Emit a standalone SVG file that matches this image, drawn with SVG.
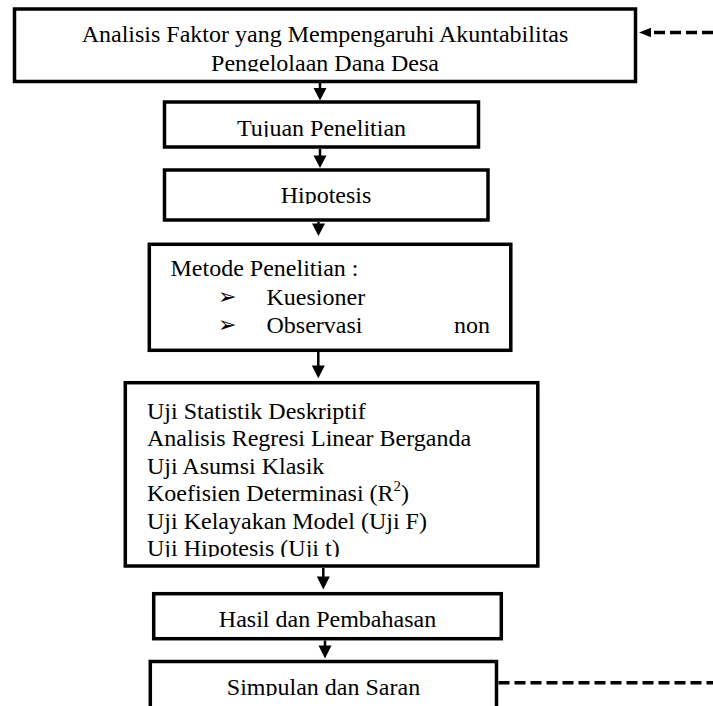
<svg xmlns="http://www.w3.org/2000/svg" width="713" height="706" viewBox="0 0 713 706">
<style>
.box{fill:#fff;stroke:#000;stroke-width:3.5}
.t{font-family:"Liberation Serif","Times New Roman",serif;font-size:24px;fill:#000}
.c{text-anchor:middle}
.b{font-family:"DejaVu Sans",sans-serif;font-size:22px;fill:#000}
.ln{stroke:#000;stroke-width:2.5;fill:none}
.dash{stroke:#000;stroke-width:3.5;fill:none;stroke-dasharray:11 5}
.head{fill:#000}
</style>
<defs>
<clipPath id="c1"><rect x="0" y="0" width="713" height="71.5"/></clipPath>
<clipPath id="c2"><rect x="0" y="0" width="713" height="137"/></clipPath>
<clipPath id="c3"><rect x="0" y="0" width="713" height="204"/></clipPath>
<clipPath id="c5"><rect x="0" y="0" width="713" height="557"/></clipPath>
<clipPath id="c7"><rect x="0" y="0" width="713" height="696"/></clipPath>
</defs>
<rect width="713" height="706" fill="#fff"/>
<g id="n1">
<rect class="box" x="14.5" y="9" width="621" height="72.5"/>
<text class="t c" x="325" y="42">Analisis Faktor yang Mempengaruhi Akuntabilitas</text>
<text class="t c" x="325" y="70.5" clip-path="url(#c1)">Pengelolaan Dana Desa</text>
</g>
<g id="n2">
<rect class="box" x="164.5" y="102" width="314" height="45"/>
<text class="t c" x="321.5" y="136" clip-path="url(#c2)">Tujuan Penelitian</text>
</g>
<g id="n3">
<rect class="box" x="164.5" y="170" width="323.5" height="50"/>
<text class="t c" x="326" y="202.5" clip-path="url(#c3)">Hipotesis</text>
</g>
<g id="n4">
<rect class="box" x="149.3" y="244.3" width="361.5" height="106"/>
<text class="t" x="170.5" y="276">Metode Penelitian :</text>
<text class="b" x="218" y="304">➢</text>
<text class="t" x="266.5" y="304.5">Kuesioner</text>
<text class="b" x="218" y="332">➢</text>
<text class="t" x="266.5" y="332.5">Observasi</text>
<text class="t" x="454" y="332.5">non</text>
</g>
<g id="n5">
<rect class="box" x="125.3" y="382.7" width="412.5" height="183.3"/>
<text class="t" x="147" y="418.5">Uji Statistik Deskriptif</text>
<text class="t" x="147" y="446">Analisis Regresi Linear Berganda</text>
<text class="t" x="147" y="473.5">Uji Asumsi Klasik</text>
<text class="t" x="147" y="501">Koefisien Determinasi (R<tspan font-size="15" dy="-10">2</tspan><tspan dy="10">)</tspan></text>
<text class="t" x="147" y="528.5">Uji Kelayakan Model (Uji F)</text>
<text class="t" x="147" y="556" clip-path="url(#c5)">Uji Hipotesis (Uji t)</text>
</g>
<g id="n6">
<rect class="box" x="153.7" y="593.7" width="347.6" height="45"/>
<text class="t c" x="327.5" y="627.3">Hasil dan Pembahasan</text>
</g>
<g id="n7">
<rect class="box" x="150.3" y="661.5" width="346.2" height="50"/>
<text class="t c" x="323.5" y="695" clip-path="url(#c7)">Simpulan dan Saran</text>
</g>
<g id="connectors">
<line class="ln" x1="320" y1="83" x2="320" y2="90"/>
<polygon class="head" points="313.5,88 326.5,88 320,100.5"/>
<line class="ln" x1="320" y1="149" x2="320" y2="157"/>
<polygon class="head" points="313.5,155.5 326.5,155.5 320,168"/>
<line class="ln" x1="318.5" y1="222" x2="318.5" y2="225"/>
<polygon class="head" points="312,223.5 325,223.5 318.5,236"/>
<line class="ln" x1="318.3" y1="352" x2="318.3" y2="367"/>
<polygon class="head" points="311.8,365.5 324.8,365.5 318.3,378.3"/>
<line class="ln" x1="323.3" y1="568" x2="323.3" y2="578"/>
<polygon class="head" points="316.8,576.5 329.8,576.5 323.3,589.5"/>
<line class="ln" x1="325" y1="640.5" x2="325" y2="647"/>
<polygon class="head" points="318.5,645.5 331.5,645.5 325,658.5"/>
<line class="dash" x1="713" y1="32.5" x2="650" y2="32.5"/>
<polygon class="head" points="639,32.5 651,27.8 651,37.2"/>
<line class="dash" x1="498.5" y1="682.7" x2="713" y2="682.7"/>
</g>
</svg>
